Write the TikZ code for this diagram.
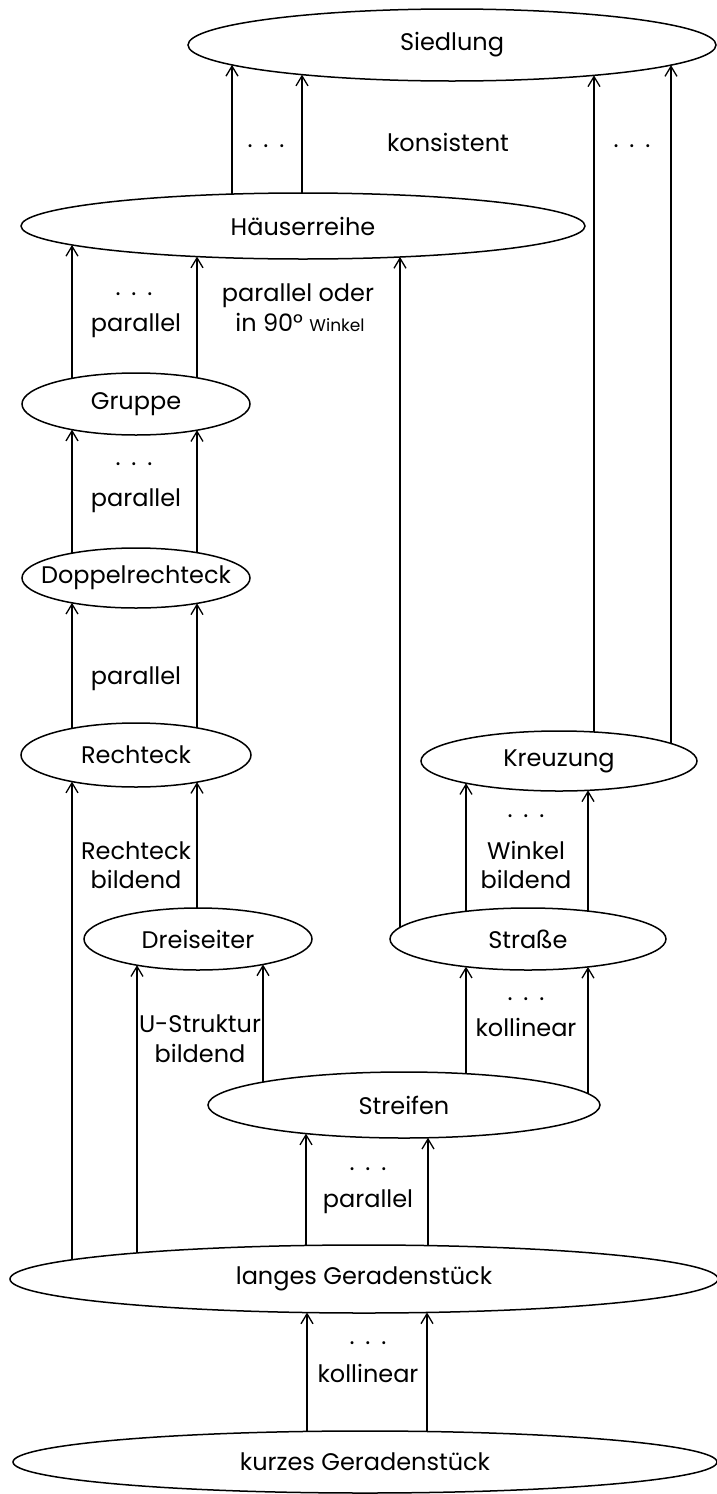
\documentclass[tikz,border=0pt]{standalone}
\usepackage{fontspec}
\setmainfont{Poppins}
\usetikzlibrary{arrows.meta,calc,shapes.geometric}

% vertical arrow at absolute x (#3) from the top border of ellipse #1
% to the bottom border of ellipse #2
\newcommand\uplink[3]{%
  \draw[link] let \p1=(#1.center), \p2=(#1.east), \p3=(#1.north),
                  \p4=(#2.center), \p5=(#2.east), \p6=(#2.north),
                  \n1={sqrt(max(0,1-((#3-\x1)/(\x2-\x1))^2))},
                  \n2={sqrt(max(0,1-((#3-\x4)/(\x5-\x4))^2))}
    in (#3pt,{\y1+(\y3-\y1)*\n1}) -- (#3pt,{\y4-(\y6-\y4)*\n2});}
\newcommand\threedots{.\hspace{0.45em}.\hspace{0.45em}.}

\begin{document}
\begin{tikzpicture}[x=1pt,y=-1pt,
  oval/.style={draw, ellipse, line width=1.5pt, fill=white, inner sep=0pt,
               outer sep=0pt, font=\fontsize{24}{29}\selectfont},
  link/.style={line width=1.3pt,
               -{Straight Barb[length=10pt,width=12pt,line width=1.3pt]}},
  lbl/.style={inner sep=0pt, anchor=base, font=\fontsize{24}{29}\selectfont}]

\useasboundingbox (0,0) rectangle (717,1494);

% concept ellipses
\node[oval, minimum width=528pt, minimum height=72pt] (sied)   at (452,45)   {\makebox[0pt]{Siedlung}};
\node[oval, minimum width=564pt, minimum height=66pt] (haus)   at (303,226)  {\makebox[0pt]{Häuserreihe}};
\node[oval, minimum width=228pt, minimum height=62pt] (grup)   at (136,404)  {\makebox[0pt]{Gruppe}};
\node[oval, minimum width=228pt, minimum height=60pt] (dopp)   at (136,578)  {\makebox[0pt]{Doppelrechteck}};
\node[oval, minimum width=230pt, minimum height=64pt] (rect)   at (136,755)  {\makebox[0pt]{Rechteck}};
\node[oval, minimum width=276pt, minimum height=60pt] (kreuz)  at (559,761)  {\makebox[0pt]{Kreuzung}};
\node[oval, minimum width=228pt, minimum height=62pt] (drei)   at (198,939)  {\makebox[0pt]{Dreiseiter}};
\node[oval, minimum width=276pt, minimum height=62pt] (str)    at (528,939)  {\makebox[0pt]{Straße}};
\node[oval, minimum width=392pt, minimum height=66pt] (streif) at (404,1105) {\makebox[0pt]{Streifen}};
\node[oval, minimum width=708pt, minimum height=68pt] (lang)   at (364,1279) {\makebox[0pt]{langes Geradenstück}};
\node[oval, minimum width=704pt, minimum height=62pt] (kurz)   at (365,1462) {\makebox[0pt]{kurzes Geradenstück}};

% relations
\uplink{haus}{sied}{232}
\uplink{haus}{sied}{302}
\uplink{kreuz}{sied}{594}
\uplink{kreuz}{sied}{671}
\uplink{grup}{haus}{72}
\uplink{grup}{haus}{197}
\uplink{str}{haus}{400}
\uplink{dopp}{grup}{72}
\uplink{dopp}{grup}{197}
\uplink{rect}{dopp}{72}
\uplink{rect}{dopp}{197}
\uplink{drei}{rect}{197}
\uplink{lang}{rect}{72}
\uplink{str}{kreuz}{466}
\uplink{str}{kreuz}{588}
\uplink{streif}{drei}{263}
\uplink{lang}{drei}{137}
\uplink{streif}{str}{466}
\uplink{streif}{str}{588}
\uplink{lang}{streif}{306}
\uplink{lang}{streif}{428}
\uplink{kurz}{lang}{307}
\uplink{kurz}{lang}{427}

% relation labels
\node[lbl] (d1)  at (266,147)  {\threedots};
\node[lbl] (k1)  at (448,151)  {konsistent};
\node[lbl] (d2)  at (632,147)  {\threedots};
\node[lbl] (d3)  at (134,295)  {\threedots};
\node[lbl] (p1)  at (136,331)  {parallel};
\node[lbl] (po)  at (298,301)  {parallel oder};
\node[lbl] (pw)  at (300,331)  {in 90° {\fontsize{17}{17}\selectfont Winkel}};
\node[lbl] (d4)  at (134,465)  {\threedots};
\node[lbl] (p2)  at (136,506)  {parallel};
\node[lbl] (p3)  at (136,684)  {parallel};
\node[lbl] (rb1) at (136,859)  {Rechteck};
\node[lbl] (rb2) at (136,888)  {bildend};
\node[lbl] (d5)  at (526,817)  {\threedots};
\node[lbl] (wb1) at (526,859)  {Winkel};
\node[lbl] (wb2) at (526,888)  {bildend};
\node[lbl] (ub1) at (200,1032) {U-Struktur};
\node[lbl] (ub2) at (200,1062) {bildend};
\node[lbl] (d6)  at (526,1000) {\threedots};
\node[lbl] (kl1) at (526,1036) {kollinear};
\node[lbl] (d7)  at (368,1170) {\threedots};
\node[lbl] (p4)  at (368,1207) {parallel};
\node[lbl] (d8)  at (368,1344) {\threedots};
\node[lbl] (kl2) at (368,1382) {kollinear};
\end{tikzpicture}
\end{document}
